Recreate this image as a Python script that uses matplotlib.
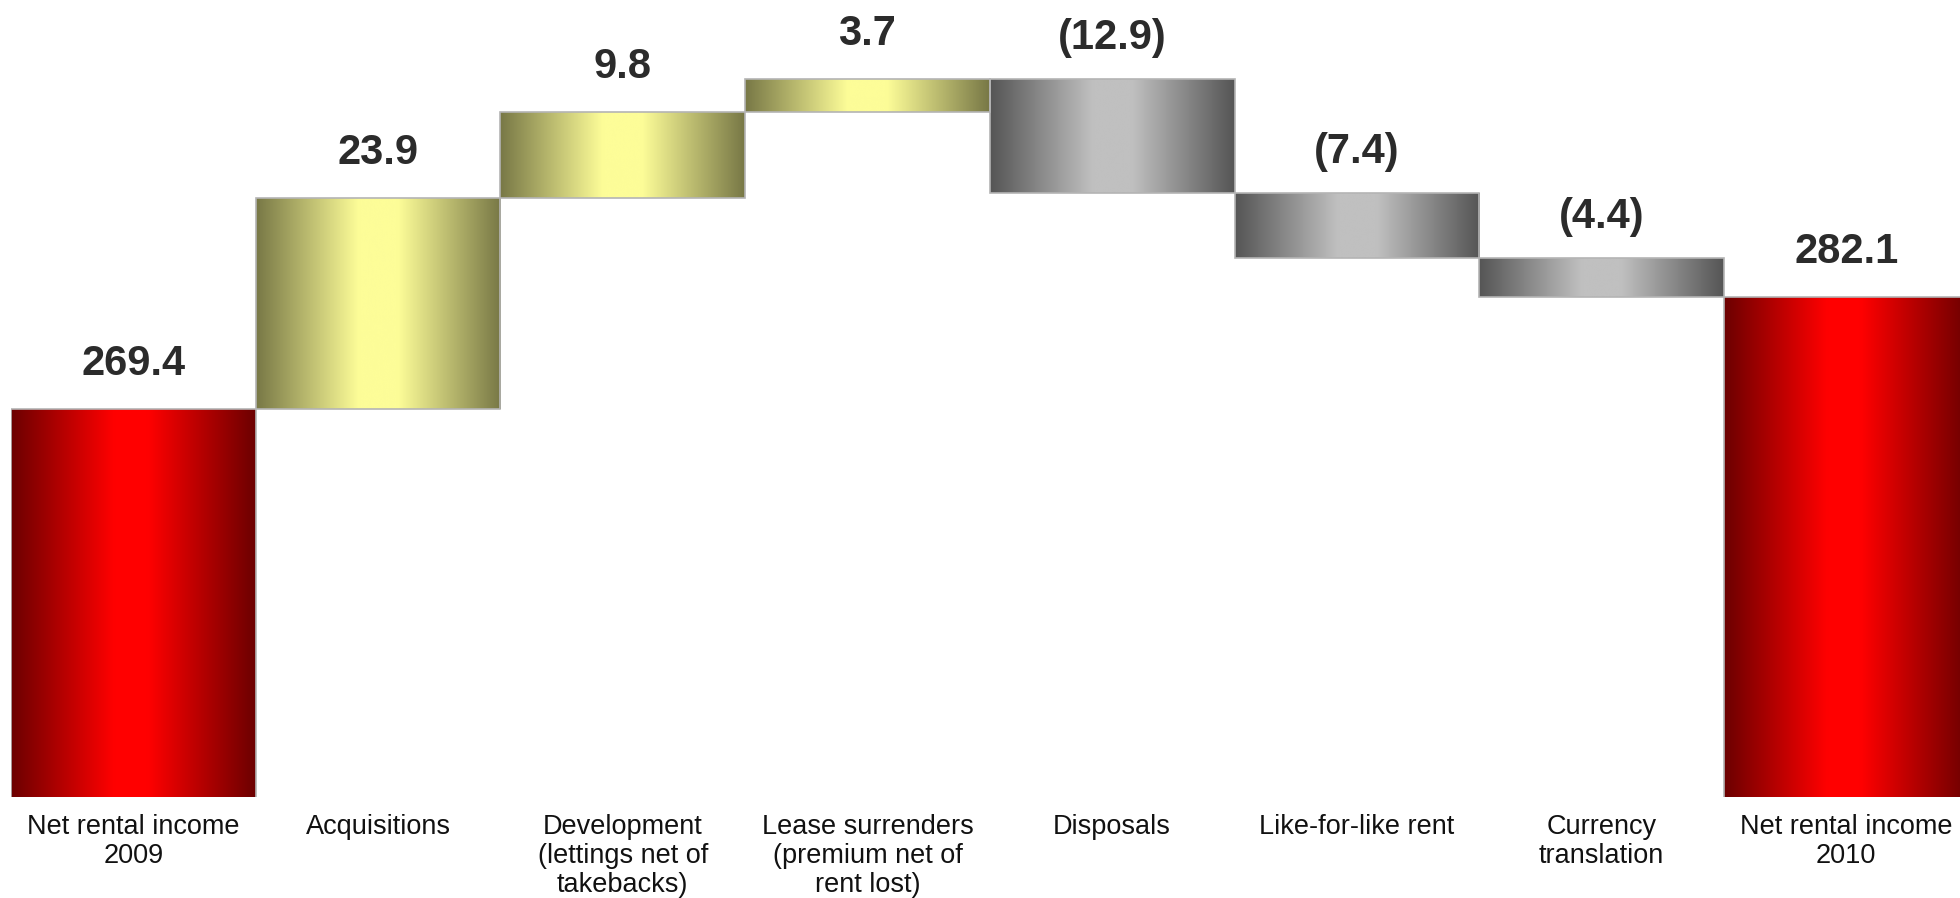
import matplotlib
matplotlib.use("Agg")
import matplotlib.pyplot as plt
import numpy as np
from matplotlib.colors import LinearSegmentedColormap

plt.rcParams['font.family'] = ['Liberation Sans', 'DejaVu Sans']

categories = ["Net rental income\n2009", "Acquisitions",
              "Development\n(lettings net of\ntakebacks)",
              "Lease surrenders\n(premium net of\nrent lost)",
              "Disposals", "Like-for-like rent", "Currency\ntranslation",
              "Net rental income\n2010"]
values = [269.4, 23.9, 9.8, 3.7, -12.9, -7.4, -4.4, 282.1]
kinds = ["total", "delta", "delta", "delta", "delta", "delta", "delta", "total"]

y_min, y_max = 225.4, 315.8

cmaps = {
    "total": LinearSegmentedColormap.from_list("red", [(0, "#6c0000"), (0.42, "#ff0000"), (0.56, "#ff0000"), (1, "#6c0000")]),
    "up": LinearSegmentedColormap.from_list("yel", [(0, "#787846"), (0.42, "#fdfd98"), (0.58, "#fdfd98"), (1, "#787846")]),
    "down": LinearSegmentedColormap.from_list("gry", [(0, "#555555"), (0.42, "#c0c0c0"), (0.58, "#c0c0c0"), (1, "#555555")]),
}

W, H = 1960, 898
fig = plt.figure(figsize=(W / 100, H / 100), dpi=100)
ax = fig.add_axes([11 / W, 101 / H, (W - 11) / W, 797 / H])
ax.set_xlim(-0.5, -0.5 + (W - 11) / 244.7)
ax.set_ylim(y_min, y_max)

grad = np.linspace(0, 1, 256).reshape(1, -1)
running = 0.0
for i, (v, k) in enumerate(zip(values, kinds)):
    if k == "total":
        bottom, height = 0.0, v
        running = v
        style = "total"
        top = v
    else:
        if v >= 0:
            bottom, height = running, v
            style = "up"
        else:
            bottom, height = running + v, -v
            style = "down"
        top = running if v < 0 else running + v
        running += v
    bars = ax.bar(i, height, bottom=bottom, width=1.0, color="none",
                  edgecolor="#b4b4b4", linewidth=1.2, zorder=3)
    patch = bars[0]
    im = ax.imshow(grad, cmap=cmaps[style], aspect="auto",
                   extent=[i - 0.5, i + 0.5, max(bottom, y_min), bottom + height],
                   zorder=2, interpolation="bicubic")
    im.set_clip_path(patch)
    label = f"({abs(v):.1f})" if v < 0 else f"{v:.1f}"
    ax.annotate(label, (i, top), xytext=(0, 24.5 if v >= 0 else 21.5),
                textcoords="offset points",
                ha="center", va="baseline", fontsize=30, fontweight="bold",
                color="#2b2b2b", annotation_clip=False)

ax.set_xlim(-0.5, -0.5 + (W - 11) / 244.7)
ax.set_ylim(y_min, y_max)
ax.set_xticks(range(len(categories)))
ax.set_xticklabels(categories, fontsize=19.5, linespacing=1.17, color="#111111")
ax.tick_params(axis="x", length=0, pad=12)
ax.set_yticks([])
for s in ax.spines.values():
    s.set_visible(False)

fig.savefig("out.png", dpi=100)
